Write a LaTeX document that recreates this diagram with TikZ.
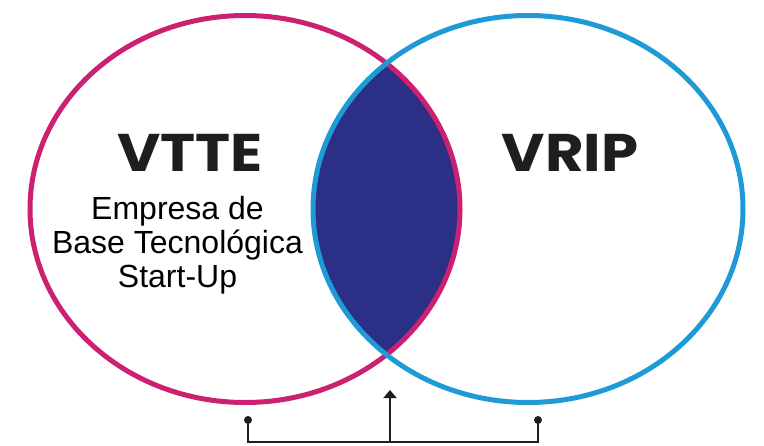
\documentclass[tikz,border=0pt]{standalone}
\usepackage{fontspec}
\setmainfont{Liberation Sans}
\newfontfamily\titlefont{Poppins}[FakeStretch=1.12]
\usetikzlibrary{shapes.geometric,arrows.meta}
\definecolor{vmag}{RGB}{204,32,112}
\definecolor{vblue}{RGB}{30,154,214}
\definecolor{vnavy}{RGB}{43,47,134}
\definecolor{vink}{RGB}{30,30,30}
\tikzset{
  venn/.style={ellipse, draw, line width=5pt, minimum width=430pt, minimum height=387pt, inner sep=0pt, outer sep=0pt},
  bigtitle/.style={font=\titlefont\bfseries\fontsize{53}{53}\selectfont, text=vink, inner sep=0pt, anchor=base},
  bodytext/.style={font=\fontsize{32}{34}\selectfont, inner sep=0pt, anchor=base, text=black},
  link/.style={line width=1.8pt, draw=vink},
  dotend/.style={circle, fill=vink, inner sep=0pt, minimum size=8pt}
}
\begin{document}
\begin{tikzpicture}[x=1pt,y=-1pt]
\useasboundingbox (0,0) rectangle (764,445);
\fill[white] (0,0) rectangle (764,445);
\begin{scope}
  \clip (245,209) ellipse [x radius=215, y radius=193.5];
  \fill[vnavy] (528,209) ellipse [x radius=215, y radius=193.5];
\end{scope}
\node[venn, draw=vmag] (L) at (245,209) {};
\node[venn, draw=vblue] (R) at (528,209) {};
\node[bigtitle] (vtte) at (190,171) {VTTE};
\node[bigtitle] (vrip) at (570,171) {VRIP};
\node[bodytext] (l1) at (177.5,219) {Empresa de};
\node[bodytext] (l2) at (177.5,253) {Base Tecnológica};
\node[bodytext] (l3) at (177.5,287) {Start-Up};
\node[dotend] (dl) at (248,420) {};
\node[dotend] (dr) at (538,420) {};
\coordinate (base) at (390,442);
\coordinate (tip) at (390,390);
\draw[link] (dl.center) |- (base) -| (dr.center);
\draw[link, -{Triangle[length=8pt,width=13pt]}] (base) -- (tip);
\end{tikzpicture}
\end{document}
